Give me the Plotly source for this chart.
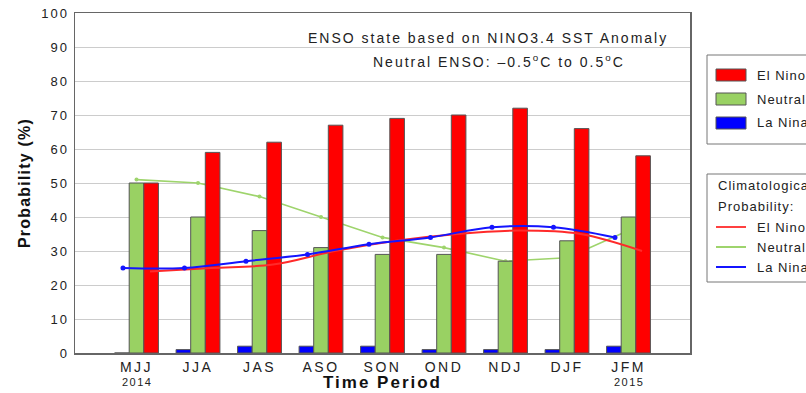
import plotly.graph_objects as go

# ---------------- data ----------------
periods = ["MJJ", "JJA", "JAS", "ASO", "SON", "OND", "NDJ", "DJF", "JFM"]
year_labels = {0: "2014", 8: "2015"}
el_nino = [50, 59, 62, 67, 69, 70, 72, 66, 58]
neutral = [50, 40, 36, 31, 29, 29, 27, 33, 40]
la_nina = [0, 1, 2, 2, 2, 1, 1, 1, 2]
clim_el_nino = [24, 25, 26, 30, 33, 35, 36, 35, 30]
clim_neutral = [51, 50, 46, 40, 34, 31, 27, 28, 36]
clim_la_nina = [25, 25, 27, 29, 32, 34, 37, 37, 34]
y_ticks = list(range(0, 101, 10))

RED = "#ff0000"
GREEN = "#99d163"
BLUE = "#0000ff"
EDGE = "#555555"
TXT = "#222222"
FONT = "Liberation Sans"

W, H = 806, 393
L, R, T, B = 75, 116, 13, 40
PW, PH = W - L - R, H - T - B


def sp(text, ls=2):
    return f"<span style='letter-spacing:{ls}px'>{text}</span>"


def px(xp):
    return (xp - L) / PW


def py(yp):
    return (H - B - yp) / PH


idx = list(range(len(periods)))
off = 0.22

fig = go.Figure()

# green climatology line sits behind the bars (base axis y)
fig.add_trace(go.Scatter(x=idx, y=clim_neutral, mode="lines+markers",
                         line=dict(color="#9ed46c", width=1.6),
                         marker=dict(size=4, color="#9ed46c"),
                         yaxis="y", showlegend=False))

# bars (overlay axis y2)
for name, vals, col in [("La Nina", la_nina, BLUE), ("Neutral", neutral, GREEN), ("El Nino", el_nino, RED)]:
    fig.add_trace(go.Bar(x=idx, y=vals, name=name, marker=dict(color=col, line=dict(color=EDGE, width=1)),
                         yaxis="y2", showlegend=False))

# blue / red climatology lines in front (overlay axis y3)
fig.add_trace(go.Scatter(x=[i + off for i in idx], y=clim_el_nino, mode="lines",
                         line=dict(color="#ff2a2a", width=2, shape="spline"),
                         yaxis="y3", showlegend=False))
fig.add_trace(go.Scatter(x=[i - off for i in idx], y=clim_la_nina, mode="lines+markers",
                         line=dict(color="#1414ff", width=2, shape="spline"),
                         marker=dict(size=5, color="#1414ff"),
                         yaxis="y3", showlegend=False))

axis_common = dict(range=[0, 100], showgrid=False, showticklabels=False, zeroline=False,
                   showline=False, fixedrange=True)

fig.update_layout(
    width=W, height=H,
    margin=dict(l=L, r=R, t=T, b=B, pad=0, autoexpand=False),
    paper_bgcolor="white", plot_bgcolor="white",
    barmode="group", bargap=0.287, bargroupgap=0,
    font=dict(family=FONT, color=TXT, size=13),
    xaxis=dict(range=[-1, 9], tickvals=idx, ticktext=[sp(p, 2.5) for p in periods],
               tickfont=dict(size=14, color=TXT), showgrid=False, zeroline=False,
               showline=True, mirror=True, linecolor="#666666", linewidth=1.5,
               ticks="", ticklabelstandoff=1),
    yaxis=dict(range=[0, 100], tickvals=y_ticks, ticktext=[sp(str(v), 2) for v in y_ticks],
               tickfont=dict(size=13, color=TXT), showgrid=True, gridcolor="#cccccc", gridwidth=1,
               zeroline=False, showline=True, mirror=True, linecolor="#666666", linewidth=1.5,
               ticks="", ticklabelstandoff=2,
               title=dict(text=sp("<b>Probability (%)</b>", 1.2), font=dict(size=16, color="#111111"),
                          standoff=6)),
    yaxis2=dict(overlaying="y", **axis_common),
    yaxis3=dict(overlaying="y", **axis_common),
)

annotations = []
# year labels
for i, yr in year_labels.items():
    annotations.append(dict(x=i, xref="x", y=py(381.5), yref="paper", text=sp(yr, 1.5),
                            showarrow=False, font=dict(size=11, color=TXT), xanchor="center", yanchor="middle"))
# x title
annotations.append(dict(x=0.5, xref="paper", y=py(383), yref="paper", text=sp("<b>Time Period</b>", 2),
                        showarrow=False, font=dict(size=17, color="#111111"), xanchor="center", yanchor="middle"))
# header text
annotations.append(dict(x=px(487.5), xref="paper", y=py(38), yref="paper",
                        text=sp("ENSO state based on NINO3.4 SST Anomaly", 2),
                        showarrow=False, font=dict(size=14, color=TXT), xanchor="center", yanchor="middle"))
annotations.append(dict(x=px(499.5), xref="paper", y=py(61), yref="paper",
                        text=sp("Neutral ENSO: \u20130.5<sup>o</sup>C to 0.5<sup>o</sup>C", 2),
                        showarrow=False, font=dict(size=14, color=TXT), xanchor="center", yanchor="middle"))

shapes = []
# legend 1 (bars)
shapes.append(dict(type="rect", xref="paper", yref="paper", x0=px(707), x1=px(830), y0=py(144), y1=py(55),
                   line=dict(color="#777777", width=1), fillcolor="white", layer="above"))
for yc, name, col in [(75, "El Nino", RED), (99, "Neutral", GREEN), (123, "La Nina", BLUE)]:
    shapes.append(dict(type="rect", xref="paper", yref="paper", x0=px(716), x1=px(746),
                       y0=py(yc + 6), y1=py(yc - 6), line=dict(color=EDGE, width=1), fillcolor=col, layer="above"))
    annotations.append(dict(x=px(755), xref="paper", y=py(yc), yref="paper", text=sp(name, 1),
                            showarrow=False, font=dict(size=13, color=TXT), xanchor="left", yanchor="middle"))
# legend 2 (climatology)
shapes.append(dict(type="rect", xref="paper", yref="paper", x0=px(707), x1=px(830), y0=py(282), y1=py(174),
                   line=dict(color="#777777", width=1), fillcolor="white", layer="above"))
annotations.append(dict(x=px(716), xref="paper", y=py(185), yref="paper", text=sp("Climatological", 1),
                        showarrow=False, font=dict(size=13, color=TXT), xanchor="left", yanchor="middle"))
annotations.append(dict(x=px(716), xref="paper", y=py(206), yref="paper", text=sp("Probability:", 1),
                        showarrow=False, font=dict(size=13, color=TXT), xanchor="left", yanchor="middle"))
for yc, name, col in [(227, "El Nino", "#ff4040"), (247, "Neutral", "#9ed46c"), (267, "La Nina", "#1414ff")]:
    shapes.append(dict(type="line", xref="paper", yref="paper", x0=px(716), x1=px(746),
                       y0=py(yc), y1=py(yc), line=dict(color=col, width=2), layer="above"))
    annotations.append(dict(x=px(755), xref="paper", y=py(yc), yref="paper", text=sp(name, 1),
                            showarrow=False, font=dict(size=13, color=TXT), xanchor="left", yanchor="middle"))

fig.update_layout(annotations=annotations, shapes=shapes)

fig.write_html("out.html", config={"displayModeBar": False, "staticPlot": True},
               post_script="document.body.style.margin='0';document.body.style.overflow='hidden';")
